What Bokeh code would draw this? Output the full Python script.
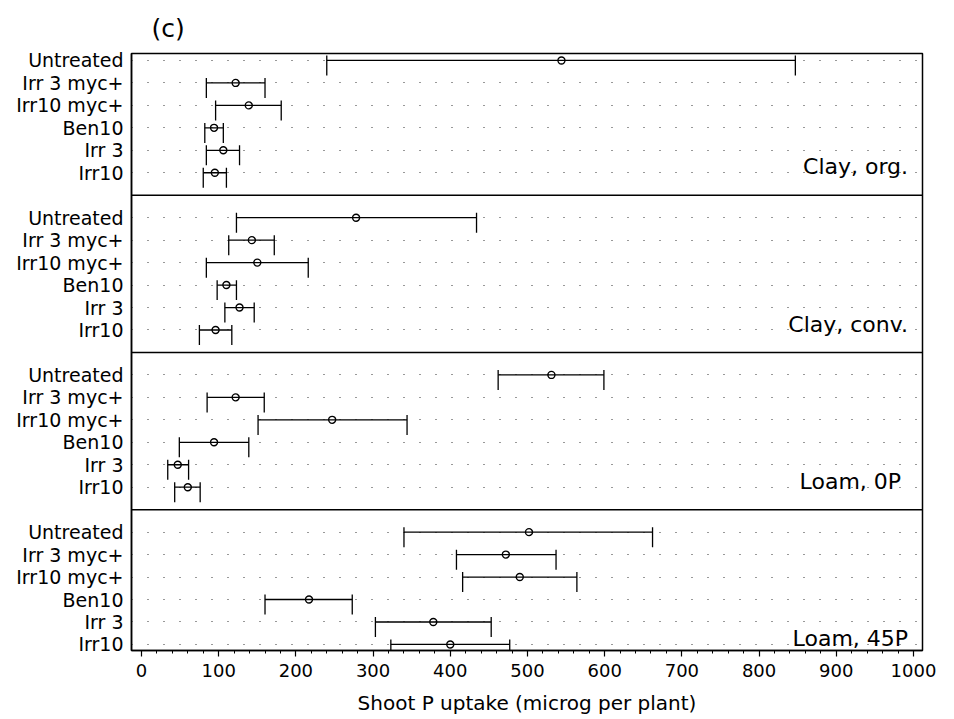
from bokeh.plotting import figure
from bokeh.models import Range1d, FixedTicker, Span, ColumnDataSource
from bokeh.core.properties import value
from bokeh.embed import file_html
from bokeh.resources import INLINE

# ---------------- data ----------------
treatments = ["Untreated", "Irr 3 myc+", "Irr10 myc+", "Ben10", "Irr 3", "Irr10"]
panels = ["Clay, org.", "Clay, conv.", "Loam,  0P", "Loam, 45P"]

clay_org_mean = [544, 122, 139, 94, 106, 95]
clay_org_low = [240, 84, 96, 82, 84, 80]
clay_org_high = [847, 160, 181, 106, 127, 110]

clay_conv_mean = [278, 143, 150, 110, 127, 96]
clay_conv_low = [123, 113, 84, 98, 108, 75]
clay_conv_high = [434, 172, 216, 123, 146, 117]

loam_0p_mean = [531, 122, 247, 94, 47, 60]
loam_0p_low = [462, 85, 151, 49, 34, 43]
loam_0p_high = [599, 159, 344, 139, 61, 76]

loam_45p_mean = [502, 472, 490, 217, 378, 400]
loam_45p_low = [340, 408, 416, 160, 303, 323]
loam_45p_high = [662, 537, 564, 273, 453, 477]

x_ticks = [0, 100, 200, 300, 400, 500, 600, 700, 800, 900, 1000]
x_minor = list(range(0, 1001, 20))

means = [clay_org_mean, clay_conv_mean, loam_0p_mean, loam_45p_mean]
lows = [clay_org_low, clay_conv_low, loam_0p_low, loam_45p_low]
highs = [clay_org_high, clay_conv_high, loam_0p_high, loam_45p_high]

# ---------------- layout helpers ----------------
GROUP = len(treatments) + 1  # one empty slot between panels
ys, xm, xl, xh, names = [], [], [], [], []
for k in range(len(panels)):
    for i, t in enumerate(treatments):
        ys.append(k * GROUP + i)
        xm.append(means[k][i])
        xl.append(lows[k][i])
        xh.append(highs[k][i])
        names.append(t)

src = ColumnDataSource(dict(y=ys, mean=xm, low=xl, high=xh,
                            cap0=[v - 0.22 for v in ys], cap1=[v + 0.67 for v in ys]))

FONT = "DejaVu Sans"

p = figure(width=946, height=718, output_backend="svg", toolbar_location=None,
           x_range=Range1d(-12.95, 1011.7),
           y_range=Range1d(len(panels) * GROUP - 2 + 0.27, -0.31),
           min_border_left=131, min_border_right=24, min_border_top=53,
           min_border_bottom=68)

p.background_fill_color = "white"
p.border_fill_color = "white"
p.outline_line_color = "black"
p.outline_line_width = 1.5

# title
p.title.text = "(c)"
p.title.text_font = FONT
p.title.text_font_size = "25px"
p.title.text_font_style = "normal"
p.title.text_color = "black"
p.title.align = "left"
p.title.offset = 20
p.title.standoff = 22

# x axis
xa = p.xaxis[0]
xa.ticker = FixedTicker(ticks=x_ticks, minor_ticks=x_minor)
xa.axis_label = "Shoot P uptake (microg per plant)"
xa.axis_label_text_font = FONT
xa.axis_label_text_font_size = "20px"
xa.axis_label_text_font_style = "normal"
xa.axis_label_standoff = 11
xa.major_label_text_font = FONT
xa.major_label_text_font_size = "18px"
xa.major_label_standoff = 7
xa.major_tick_in = 0
xa.major_tick_out = 6
xa.minor_tick_in = 0
xa.minor_tick_out = 3
xa.axis_line_width = 1.5
xa.major_tick_line_width = 1.2
xa.minor_tick_line_width = 1
xa.axis_line_color = "black"
xa.major_label_text_color = "black"
xa.axis_label_text_color = "black"

# y axis
ya = p.yaxis[0]
ya.ticker = FixedTicker(ticks=ys, minor_ticks=[])
ya.major_label_overrides = {y: n for y, n in zip(ys, names)}
ya.major_label_text_font = FONT
ya.major_label_text_font_size = "19px"
ya.major_label_text_color = "black"
ya.major_label_standoff = 8
ya.major_tick_in = 0
ya.major_tick_out = 0
ya.minor_tick_in = 0
ya.minor_tick_out = 0
ya.axis_line_width = 1.5
ya.axis_line_color = "black"

# dotted row grid
p.xgrid.visible = False
p.ygrid.ticker = FixedTicker(ticks=ys, minor_ticks=[])
p.ygrid.grid_line_color = "#333333"
p.ygrid.grid_line_width = 1
p.ygrid.grid_line_dash = "1 15"
p.ygrid.grid_line_dash_offset = 0

# panel dividers
for k in range(1, len(panels)):
    p.add_layout(Span(location=k * GROUP - 1, dimension="width",
                      line_color="black", line_width=1.5))

# error bars
p.segment(x0="low", y0="y", x1="high", y1="y", source=src, line_color="black", line_width=1.3)
p.segment(x0="low", y0="cap0", x1="low", y1="cap1", source=src, line_color="black", line_width=1.3)
p.segment(x0="high", y0="cap0", x1="high", y1="cap1", source=src, line_color="black", line_width=1.3)
p.scatter(x="mean", y="y", source=src, marker="circle", size=7,
          fill_color=None, line_color="black", line_width=1.4)

# panel labels
lab = ColumnDataSource(dict(x=[993] * len(panels),
                            y=[k * GROUP + len(treatments) - 1 - 0.26 for k in range(len(panels))],
                            t=panels))
p.text(x="x", y="y", text="t", source=lab, text_align="right", text_baseline="alphabetic",
       text_font=value(FONT), text_font_size="22px", text_color="black")

open("out.html", "w").write(file_html(p, INLINE))
